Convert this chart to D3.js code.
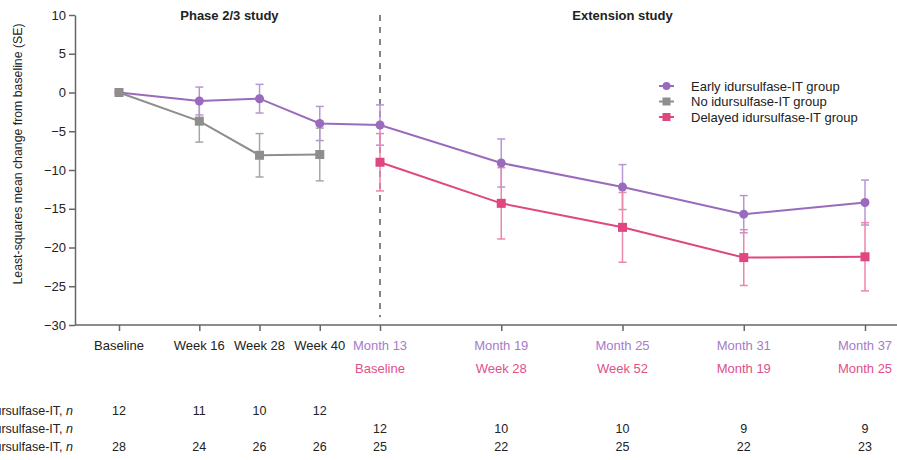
<!DOCTYPE html>
<html lang="en">
<head>
  <meta charset="UTF-8">
  <title>Least-squares mean change from baseline</title>
  <style>
    body {
      margin: 0;
      background: #fff;
      font-family: "Liberation Sans", Arial, sans-serif;
    }
    .tick text {
      font-size: 13px;
      fill: #222;
    }
  </style>
</head>
<body>
  <div id="chart"></div>

  <script src="https://d3js.org/d3.v7.min.js"></script>
  <script>
    // timepoints (study week used for position on the x axis)
    const weeks = [0, 16, 28, 40, 52, 78, 104, 130, 156];
    const topLabels = ['Baseline', 'Week 16', 'Week 28', 'Week 40', 'Month 13', 'Month 19', 'Month 25', 'Month 31', 'Month 37'];
    const bottomLabels = ['', '', '', '', 'Baseline', 'Week 28', 'Week 52', 'Month 19', 'Month 25'];

    // LS mean change and SE, null where no value
    const earlyMean = [0, -1.1, -0.8, -4.0, -4.2, -9.1, -12.2, -15.7, -14.2];
    const earlySE = [0, 1.8, 1.85, 2.2, 2.6, 3.1, 2.9, 2.4, 2.9];
    const noMean = [0, -3.7, -8.1, -8.0, null, null, null, null, null];
    const noSE = [0, 2.7, 2.8, 3.4, null, null, null, null, null];
    const delayedMean = [null, null, null, null, -9.0, -14.3, -17.4, -21.3, -21.2];
    const delayedSE = [null, null, null, null, 3.7, 4.6, 4.5, 3.6, 4.4];

    // n at risk per timepoint
    const nNo = [12, 11, 10, 12, null, null, null, null, null];
    const nDelayed = [null, null, null, null, 12, 10, 10, 9, 9];
    const nEarly = [28, 24, 26, 26, 25, 22, 25, 22, 23];

    const yTicks = [10, 5, 0, -5, -10, -15, -20, -25, -30];

    const purple = '#9a6bbd';
    const grey = '#8e8e8e';
    const pink = '#e0467f';

    const width = 897, height = 460;

    const svg = d3.select('#chart')
      .append('svg')
      .attr('width', width)
      .attr('height', height);

    // phase 2/3 weeks and extension months share one axis, split at month 13
    const x = d3.scaleLinear()
      .domain([0, 52, 156])
      .range([119, 380, 865]);

    const y = d3.scaleLinear()
      .domain([-30, 10])
      .range([325, 15]);

    // y axis
    const yAxis = svg.append('g')
      .attr('transform', 'translate(75,0)')
      .call(d3.axisLeft(y).tickValues(yTicks).tickSize(6).tickSizeOuter(0)
        .tickFormat(d => d < 0 ? '\u2212' + Math.abs(d) : d));
    yAxis.select('.domain').attr('stroke', '#666').attr('stroke-width', 1.5);
    yAxis.selectAll('.tick line').attr('stroke', '#666').attr('stroke-width', 1.5);
    yAxis.selectAll('.tick text').attr('x', -9);

    // x axis
    svg.append('line')
      .attr('x1', 75).attr('x2', width)
      .attr('y1', y(-30)).attr('y2', y(-30))
      .attr('stroke', '#666').attr('stroke-width', 1.5);

    const xAxis = svg.append('g')
      .attr('transform', `translate(0,${y(-30)})`)
      .call(d3.axisBottom(x).tickValues(weeks).tickSize(6).tickFormat(''));
    xAxis.select('.domain').remove();
    xAxis.selectAll('.tick line').attr('stroke', '#666').attr('stroke-width', 1.5);

    svg.selectAll('.lab1')
      .data(weeks)
      .enter()
      .append('text')
      .attr('x', d => x(d))
      .attr('y', 350)
      .attr('text-anchor', 'middle')
      .style('font-size', '13px')
      .attr('fill', (d, i) => i >= 4 ? '#a57ccb' : '#222')
      .text((d, i) => topLabels[i]);

    svg.selectAll('.lab2')
      .data(weeks)
      .enter()
      .append('text')
      .attr('x', d => x(d))
      .attr('y', 373)
      .attr('text-anchor', 'middle')
      .style('font-size', '13px')
      .attr('fill', '#e0508a')
      .text((d, i) => bottomLabels[i]);

    // y axis label
    svg.append('text')
      .attr('transform', 'rotate(-90)')
      .attr('x', -154)
      .attr('y', 22)
      .attr('text-anchor', 'middle')
      .style('font-size', '12.3px')
      .attr('fill', '#222')
      .text('Least-squares mean change from baseline (SE)');

    // study section headers and divider
    svg.append('text')
      .attr('x', x(22)).attr('y', 20)
      .attr('text-anchor', 'middle')
      .style('font-size', '13px').style('font-weight', 'bold')
      .attr('fill', '#222')
      .text('Phase 2/3 study');
    svg.append('text')
      .attr('x', x(104)).attr('y', 20)
      .attr('text-anchor', 'middle')
      .style('font-size', '13px').style('font-weight', 'bold')
      .attr('fill', '#222')
      .text('Extension study');

    svg.append('line')
      .attr('x1', x(52)).attr('x2', x(52))
      .attr('y1', y(10)).attr('y2', y(-29))
      .attr('stroke', '#444')
      .attr('stroke-width', 1.3)
      .attr('stroke-dasharray', '6,6');

    // series
    function toPoints(mean, se) {
      return weeks.map((w, i) => ({ w: w, m: mean[i], se: se[i] }))
        .filter(d => d.m !== null);
    }

    const series = [
      { name: 'No idursulfase-IT group', pts: toPoints(noMean, noSE), color: grey, bar: '#a6a6a6', shape: 'square' },
      { name: 'Early idursulfase-IT group', pts: toPoints(earlyMean, earlySE), color: purple, bar: '#b796d4', shape: 'circle' },
      { name: 'Delayed idursulfase-IT group', pts: toPoints(delayedMean, delayedSE), color: pink, bar: '#ec86ab', shape: 'square' }
    ];

    const line = d3.line().x(d => x(d.w)).y(d => y(d.m));

    // error bars first
    series.forEach(s => {
      const g = svg.append('g');
      const bars = s.pts.filter(d => d.se > 0);
      g.selectAll('.v').data(bars).enter().append('line')
        .attr('x1', d => x(d.w)).attr('x2', d => x(d.w))
        .attr('y1', d => y(d.m + d.se)).attr('y2', d => y(d.m - d.se))
        .attr('stroke', s.bar).attr('stroke-width', 1.5);
      [1, -1].forEach(sign => {
        g.selectAll('.c' + sign).data(bars).enter().append('line')
          .attr('x1', d => x(d.w) - 4).attr('x2', d => x(d.w) + 4)
          .attr('y1', d => y(d.m + sign * d.se)).attr('y2', d => y(d.m + sign * d.se))
          .attr('stroke', s.bar).attr('stroke-width', 1.5);
      });
    });

    // lines and markers (grey drawn last at baseline so its square sits on top)
    const drawOrder = [series[1], series[2], series[0]];
    drawOrder.forEach(s => {
      svg.append('path')
        .datum(s.pts)
        .attr('d', line)
        .attr('fill', 'none')
        .attr('stroke', s.color)
        .attr('stroke-width', 2);
    });
    drawOrder.forEach(s => {
      if (s.shape === 'circle') {
        svg.selectAll(null).data(s.pts).enter().append('circle')
          .attr('cx', d => x(d.w)).attr('cy', d => y(d.m))
          .attr('r', 4.5).attr('fill', s.color);
      } else {
        svg.selectAll(null).data(s.pts).enter().append('rect')
          .attr('x', d => x(d.w) - 4.5).attr('y', d => y(d.m) - 4.5)
          .attr('width', 9).attr('height', 9)
          .attr('fill', s.color);
      }
    });

    // legend
    const legendOrder = [series[1], series[0], series[2]];
    const legend = svg.append('g').attr('transform', 'translate(659,86)');
    legendOrder.forEach((s, i) => {
      const row = legend.append('g').attr('transform', `translate(0,${i * 15.5})`);
      row.append('line').attr('x1', 0).attr('x2', 15).attr('stroke', s.color).attr('stroke-width', 2);
      if (s.shape === 'circle') {
        row.append('circle').attr('cx', 7.5).attr('r', 4).attr('fill', s.color);
      } else {
        row.append('rect').attr('x', 3.5).attr('y', -4).attr('width', 8).attr('height', 8).attr('fill', s.color);
      }
      row.append('text').attr('x', 32).attr('y', 4.5)
        .style('font-size', '13px').attr('fill', '#222').text(s.name);
    });

    // n table (row labels run off the left edge, as in the source figure)
    const nRows = [
      { label: 'No idursulfase-IT, ', vals: nNo, y: 415 },
      { label: 'Delayed idursulfase-IT, ', vals: nDelayed, y: 433 },
      { label: 'Early idursulfase-IT, ', vals: nEarly, y: 451 }
    ];
    nRows.forEach(r => {
      const t = svg.append('text')
        .attr('x', 73).attr('y', r.y)
        .attr('text-anchor', 'end')
        .style('font-size', '12.5px').attr('fill', '#222');
      t.append('tspan').text(r.label);
      t.append('tspan').style('font-style', 'italic').text('n');

      svg.selectAll(null)
        .data(weeks.map((w, i) => ({ w: w, v: r.vals[i] })).filter(d => d.v !== null))
        .enter().append('text')
        .attr('x', d => x(d.w)).attr('y', r.y)
        .attr('text-anchor', 'middle')
        .style('font-size', '12.5px').attr('fill', '#222')
        .text(d => d.v);
    });
  </script>
</body>
</html>
